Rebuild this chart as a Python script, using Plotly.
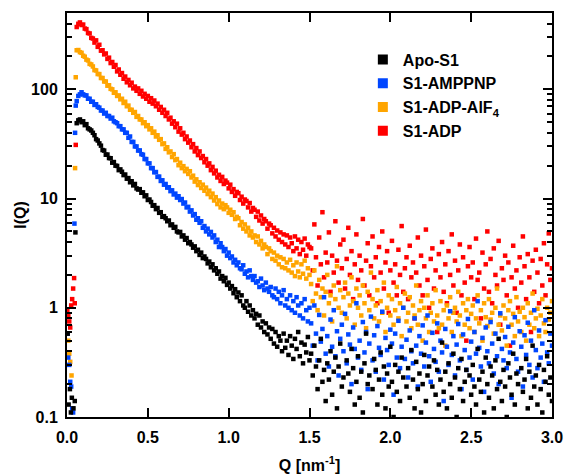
import plotly.graph_objects as go

# ---------------- data ----------------
q_dense = [0.06, 0.07, 0.08, 0.09, 0.10, 0.11, 0.12, 0.13, 0.14, 0.15,
           0.16, 0.17, 0.18, 0.19, 0.20, 0.21, 0.22, 0.23, 0.24, 0.25,
           0.26, 0.27, 0.28, 0.29, 0.30, 0.31, 0.32, 0.33, 0.34, 0.35,
           0.36, 0.37, 0.38, 0.39, 0.40, 0.41, 0.42, 0.43, 0.44, 0.45,
           0.46, 0.47, 0.48, 0.49, 0.50, 0.51, 0.52, 0.53, 0.54, 0.55,
           0.56, 0.57, 0.58, 0.59, 0.60, 0.61, 0.62, 0.63, 0.64, 0.65,
           0.66, 0.67, 0.68, 0.69, 0.70, 0.71, 0.72, 0.73, 0.74, 0.75,
           0.76, 0.77, 0.78, 0.79, 0.80, 0.81, 0.82, 0.83, 0.84, 0.85,
           0.86, 0.87, 0.88, 0.89, 0.90, 0.91, 0.92, 0.93, 0.94, 0.95,
           0.96, 0.97, 0.98, 0.99, 1.00, 1.01, 1.02, 1.03, 1.04, 1.05,
           1.06, 1.07, 1.08, 1.09, 1.10, 1.11, 1.12, 1.13, 1.14, 1.15,
           1.16, 1.17, 1.18, 1.19, 1.20, 1.21, 1.22, 1.23, 1.24, 1.25,
           1.26, 1.27, 1.28, 1.29, 1.30, 1.31, 1.32, 1.33, 1.34, 1.35,
           1.36, 1.37, 1.38, 1.39, 1.40, 1.41, 1.42, 1.43, 1.44, 1.45,
           1.46, 1.47, 1.48, 1.49, 1.50]
q_tail = [1.51, 1.52, 1.53, 1.54, 1.55, 1.56, 1.57, 1.58, 1.59, 1.60,
          1.61, 1.62, 1.63, 1.64, 1.65, 1.66, 1.67, 1.68, 1.69, 1.70,
          1.71, 1.72, 1.73, 1.74, 1.75, 1.76, 1.77, 1.78, 1.79, 1.80,
          1.81, 1.82, 1.83, 1.84, 1.85, 1.86, 1.87, 1.88, 1.89, 1.90,
          1.91, 1.92, 1.93, 1.94, 1.95, 1.96, 1.97, 1.98, 1.99, 2.00,
          2.01, 2.02, 2.03, 2.04, 2.05, 2.06, 2.07, 2.08, 2.09, 2.10,
          2.11, 2.12, 2.13, 2.14, 2.15, 2.16, 2.17, 2.18, 2.19, 2.20,
          2.21, 2.22, 2.23, 2.24, 2.25, 2.26, 2.27, 2.28, 2.29, 2.30,
          2.31, 2.32, 2.33, 2.34, 2.35, 2.36, 2.37, 2.38, 2.39, 2.40,
          2.41, 2.42, 2.43, 2.44, 2.45, 2.46, 2.47, 2.48, 2.49, 2.50,
          2.51, 2.52, 2.53, 2.54, 2.55, 2.56, 2.57, 2.58, 2.59, 2.60,
          2.61, 2.62, 2.63, 2.64, 2.65, 2.66, 2.67, 2.68, 2.69, 2.70,
          2.71, 2.72, 2.73, 2.74, 2.75, 2.76, 2.77, 2.78, 2.79, 2.80,
          2.81, 2.82, 2.83, 2.84, 2.85, 2.86, 2.87, 2.88, 2.89, 2.90,
          2.91, 2.92, 2.93, 2.94, 2.95, 2.96, 2.97, 2.98, 2.99, 3.00]

# Apo-S1 (black)
apo_bs_q = [0.004, 0.010, 0.018, 0.024, 0.030, 0.040, 0.048, 0.052]
apo_bs_i = [0.58, 0.13, 0.18, 0.11, 0.15, 0.12, 0.14, 4.9]
apo_dense = [49, 52, 53, 50, 51, 47, 48, 44, 43, 42,
             40, 38, 35, 34, 32, 30.5, 27.8, 27.5, 25.2, 25.3,
             23.5, 23.4, 21.3, 21.6, 20.0, 19.9, 18.2, 18.5, 17.6, 16.4,
             16.6, 15.2, 15.4, 14.1, 14.4, 13.2, 13.6, 12.4, 12.1, 12.2,
             11.3, 11.4, 10.5, 10.7, 9.7, 9.8, 9.3, 8.6, 8.7, 8.0,
             8.2, 7.4, 7.5, 6.8, 6.9, 6.6, 6.2, 6.3, 5.7, 5.8,
             5.4, 5.5, 5.0, 4.9, 4.95, 4.5, 4.6, 4.2, 4.35, 3.9,
             4.0, 3.8, 3.55, 3.65, 3.3, 3.4, 3.05, 3.2, 2.85, 2.95,
             2.8, 2.55, 2.65, 2.35, 2.5, 2.2, 2.3, 2.05, 2.15, 1.85,
             1.95, 1.75, 1.88, 1.62, 1.7, 1.5, 1.58, 1.36, 1.48, 1.25,
             1.38, 1.15, 1.3, 1.05, 1.0, 1.15, 0.92, 1.05, 0.85, 0.95,
             0.8, 0.88, 0.7, 0.85, 0.66, 0.75, 0.6, 0.72, 0.57, 0.66,
             0.52, 0.64, 0.47, 0.6, 0.44, 0.55, 0.5, 0.4, 0.58, 0.43,
             0.5, 0.37, 0.55, 0.45, 0.34, 0.52, 0.42, 0.6, 0.36, 0.48,
             0.31, 0.46, 0.39, 0.54, 0.33]
apo_tail = [0.38, 0.24, 0.45, 0.29, 0.18, 0.33, 0.52, 0.21, 0.27, 0.14,
            0.31, 0.22, 0.40, 0.16, 0.26, 0.35, 0.12, 0.29, 0.47, 0.19,
            0.23, 0.09, 0.33, 0.25, 0.17, 0.42, 0.28, 0.13, 0.21, 0.36,
            0.15, 0.26, 0.11, 0.31, 0.58, 0.20, 0.24, 0.08, 0.18, 0.34,
            0.27, 0.13, 0.22, 0.39, 0.16, 0.29, 0.12, 0.25, 0.19, 0.44,
            0.21, 0.10, 0.30, 0.17, 0.26, 0.14, 0.35, 0.23, 0.07, 0.19,
            0.28, 0.15, 0.41, 0.22, 0.12, 0.32, 0.18, 0.25, 0.11, 0.20,
            0.37, 0.14, 0.24, 0.29, 0.09, 0.19, 0.33, 0.16, 0.27, 0.13,
            0.22, 0.48, 0.17, 0.26, 0.12, 0.31, 0.20, 0.15, 0.38, 0.23,
            0.10, 0.28, 0.18, 0.34, 0.14, 0.21, 0.27, 0.08, 0.24, 0.16,
            0.30, 0.19, 0.13, 0.42, 0.22, 0.17, 0.26, 0.11, 0.35, 0.20,
            0.15, 0.29, 0.24, 0.12, 0.33, 0.18, 0.52, 0.21, 0.14, 0.27,
            0.19, 0.10, 0.31, 0.23, 0.16, 0.38, 0.13, 0.25, 0.20, 0.09,
            0.28, 0.17, 0.22, 0.34, 0.12, 0.26, 0.15, 0.45, 0.19, 0.24,
            0.13, 0.30, 0.18, 0.11, 0.27, 0.21, 0.36, 0.16, 0.23, 0.14]

# S1-AMPPNP (blue)
amp_bs_q = [0.004, 0.008, 0.014, 0.020, 0.026, 0.032, 0.038, 0.046, 0.050, 0.054]
amp_bs_i = [0.58, 0.35, 0.30, 0.21, 0.19, 0.12, 0.11, 5.9, 40, 71]
amp_dense = [78, 87, 90, 94, 90, 88, 88, 82, 82, 77,
             77, 72, 73, 69, 68, 64, 64, 60, 61, 57,
             57, 54, 55, 51, 50, 49, 46, 46, 43, 43,
             40, 40, 36, 37, 33, 33, 30, 30, 27.5, 27.6,
             25.5, 25.2, 23, 23, 21, 21, 19, 19, 17.4, 17.5,
             15.8, 15.9, 14.5, 14.7, 13.4, 13.6, 12.6, 12.7, 11.7, 11.9,
             10.9, 11.1, 10.2, 10.5, 9.7, 9.9, 9.0, 9.2, 8.3, 8.4,
             7.6, 7.8, 7.0, 7.2, 6.4, 6.6, 6.0, 6.2, 5.4, 5.6,
             5.0, 5.3, 4.7, 4.95, 4.4, 4.6, 4.0, 4.2, 3.6, 3.9,
             3.6, 3.3, 3.45, 3.0, 3.2, 2.85, 2.95, 2.6, 2.75, 2.45,
             2.6, 2.3, 2.25, 2.45, 2.05, 2.15, 1.9, 2.2, 1.95, 1.8,
             1.95, 1.7, 1.75, 1.55, 1.85, 1.6, 1.45, 1.7, 1.5, 1.4,
             1.55, 1.3, 1.25, 1.5, 1.2, 1.4, 1.1, 1.3, 1.45, 1.05,
             1.2, 1.0, 1.3, 0.95, 1.15, 0.9, 1.25, 1.05, 0.85, 1.1,
             0.8, 1.2, 0.95, 0.75, 1.0]
amp_tail = [0.72, 0.45, 1.05, 0.58, 0.33, 0.86, 0.49, 0.64, 1.25, 0.38,
            0.55, 0.29, 0.78, 0.44, 0.95, 0.36, 0.61, 0.24, 0.52, 0.70,
            0.40, 0.88, 0.31, 0.57, 0.46, 0.20, 0.66, 0.42, 1.10, 0.35,
            0.50, 0.27, 0.74, 0.39, 0.60, 0.18, 0.47, 0.83, 0.33, 0.56,
            0.26, 0.68, 0.43, 0.37, 0.92, 0.22, 0.53, 0.41, 0.30, 0.63,
            0.47, 0.16, 0.58, 0.35, 0.76, 0.28, 0.44, 1.00, 0.34, 0.51,
            0.23, 0.62, 0.40, 0.31, 0.80, 0.45, 0.19, 0.55, 0.38, 0.69,
            0.29, 0.48, 0.85, 0.36, 0.21, 0.59, 0.42, 0.32, 0.72, 0.26,
            0.50, 0.39, 0.14, 0.64, 0.44, 0.30, 0.93, 0.37, 0.55, 0.24,
            0.46, 0.71, 0.33, 0.18, 0.57, 0.41, 0.27, 0.79, 0.35, 0.49,
            0.22, 0.60, 0.38, 1.15, 0.43, 0.29, 0.53, 0.17, 0.66, 0.40,
            0.31, 0.74, 0.47, 0.25, 0.58, 0.36, 0.20, 0.89, 0.42, 0.33,
            0.54, 0.28, 0.67, 0.39, 0.15, 0.48, 0.82, 0.34, 0.26, 0.61,
            0.44, 0.19, 0.56, 0.37, 0.73, 0.30, 0.50, 0.23, 0.95, 0.41,
            0.28, 0.62, 0.35, 0.47, 0.21, 0.77, 0.39, 0.31, 0.58, 0.45]

# S1-ADP-AlF4 (orange)
alf_bs_q = [0.002, 0.008, 0.014, 0.020, 0.028, 0.036, 0.050, 0.054]
alf_bs_i = [0.58, 0.50, 0.38, 0.32, 0.24, 0.12, 19, 129]
alf_dense = [228, 229, 219, 216, 203, 199, 187, 184, 171, 169,
             162, 150, 149, 138, 138, 127, 127, 118, 118, 108,
             109, 101, 100, 93, 94, 87, 88, 81, 82, 75,
             77, 70, 71, 65, 65, 61, 62, 56, 57, 53,
             53, 49, 50, 46, 47, 43, 44, 40, 41, 37,
             38, 34.5, 35, 31.5, 32, 28.5, 29.5, 26.5, 27, 24,
             25.5, 22.5, 23, 20.2, 21.3, 19, 19.8, 17.8, 18.7, 16.8,
             17.8, 15.6, 16.2, 14.3, 15.0, 13.3, 14.1, 12.5, 13.4, 11.8,
             12.6, 11.0, 11.8, 10.3, 11.1, 9.6, 10.3, 8.9, 9.6, 8.3,
             9.0, 8.0, 8.7, 8.3, 7.4, 7.9, 7.1, 7.5, 6.5, 6.8,
             6.6, 5.7, 6.1, 5.3, 5.8, 5.0, 5.4, 4.6, 5.0, 4.4,
             4.6, 4.0, 4.5, 3.8, 4.1, 3.5, 3.8, 3.6, 3.1, 3.5,
             3.3, 2.8, 3.2, 2.7, 3.0, 2.5, 2.9, 2.35, 2.8, 2.3,
             2.6, 2.2, 2.75, 2.1, 2.45, 1.95, 2.6, 2.15, 1.9, 2.5,
             2.05, 2.7, 1.85, 2.3, 2.0]
alf_tail = [1.65, 1.15, 2.2, 1.35, 0.95, 1.8, 1.25, 1.5, 0.85, 1.4,
            2.0, 1.1, 1.3, 0.75, 1.6, 1.2, 2.4, 1.0, 1.45, 0.9,
            1.25, 1.7, 0.8, 1.35, 1.05, 1.9, 1.15, 0.7, 1.5, 1.0,
            1.3, 0.85, 1.6, 1.1, 0.65, 1.4, 0.95, 2.1, 1.2, 0.8,
            1.05, 1.45, 0.75, 1.15, 0.9, 1.7, 0.6, 1.0, 1.3, 0.85,
            1.2, 0.7, 0.95, 1.55, 0.8, 1.1, 0.55, 1.0, 1.35, 0.75,
            0.9, 1.25, 0.65, 1.05, 0.85, 1.6, 0.7, 0.95, 1.15, 0.5,
            1.0, 0.8, 1.3, 0.6, 0.9, 1.1, 0.75, 1.45, 0.85, 0.65,
            1.15, 0.7, 0.95, 0.45, 1.05, 0.8, 1.25, 0.6, 0.9, 1.0,
            0.75, 1.4, 0.85, 0.55, 1.1, 0.7, 0.95, 1.2, 0.65, 0.88,
            1.05, 0.6, 0.8, 1.3, 0.72, 0.95, 0.5, 1.1, 0.82, 0.68,
            1.2, 0.78, 0.9, 0.58, 1.0, 1.5, 0.7, 0.85, 0.62, 1.05,
            0.8, 0.45, 0.95, 1.15, 0.7, 0.88, 0.55, 1.25, 0.75, 0.92,
            0.6, 1.0, 0.82, 0.5, 1.1, 0.7, 0.9, 1.35, 0.65, 0.8,
            0.98, 0.55, 0.85, 1.2, 0.72, 0.6, 1.0, 0.78, 0.9, 1.15]

# S1-ADP (red)
adp_bs_q = [0.002, 0.008, 0.014, 0.020, 0.026, 0.032, 0.038, 0.044, 0.048, 0.054]
adp_bs_i = [0.95, 0.85, 0.75, 0.66, 1.05, 1.2, 1.5, 1.87, 1.1, 31]
adp_dense = [372, 398, 410, 388, 392, 360, 356, 328, 325, 296,
             292, 268, 281, 245, 256, 226, 228, 209, 213, 190,
             195, 174, 178, 161, 167, 146, 152, 136, 141, 125,
             131, 116, 122, 109, 115, 102, 106, 97, 102, 91,
             97, 86, 91, 82, 87, 77, 83, 74, 79, 70,
             74, 65, 69, 61, 65, 57, 61, 53, 55, 48.5,
             51, 45, 48.5, 41, 44, 38.5, 40, 35, 37, 32.5,
             34, 29.5, 31.5, 27, 29, 25, 27, 23.5, 24.5, 21.5,
             23, 20, 21, 18.2, 19.5, 17, 18, 15.6, 16.5, 14.5,
             15.8, 13.6, 14.6, 14.0, 12.4, 13.4, 11.5, 12.2, 10.6, 11.5,
             11.2, 9.7, 10.4, 9.0, 9.8, 9.5, 8.3, 9.1, 7.6, 8.2,
             7.9, 6.8, 7.6, 6.3, 7.0, 5.9, 6.5, 6.2, 5.3, 5.9,
             5.7, 4.8, 5.4, 4.5, 5.1, 4.2, 4.9, 4.0, 4.7, 3.8,
             4.6, 3.6, 4.4, 3.9, 3.3, 4.5, 3.5, 4.2, 3.1, 4.0,
             3.4, 4.3, 3.0, 3.8, 3.6]
adp_tail = [3.5, 2.2, 5.8, 2.9, 1.6, 4.4, 2.5, 7.5, 1.9, 3.2,
            2.6, 4.9, 1.4, 3.0, 2.1, 6.2, 2.7, 1.7, 3.8, 2.3,
            4.2, 1.5, 2.8, 5.4, 2.0, 3.3, 1.2, 2.5, 4.7, 1.8,
            3.0, 2.2, 6.5, 1.6, 2.7, 3.9, 1.3, 2.4, 4.5, 1.9,
            2.9, 1.1, 3.6, 2.1, 5.0, 1.5, 2.6, 3.3, 0.9, 2.2,
            4.1, 1.7, 2.5, 1.3, 3.4, 2.0, 5.6, 1.4, 2.3, 2.9,
            1.2, 3.7, 1.9, 2.6, 0.8, 2.1, 4.4, 1.6, 3.0, 1.3,
            2.4, 5.2, 1.8, 1.0, 2.8, 3.5, 1.5, 2.2, 0.6, 3.1,
            1.9, 4.0, 1.4, 2.5, 1.1, 3.3, 2.0, 4.7, 1.6, 2.7,
            0.9, 2.2, 3.8, 1.3, 2.9, 1.7, 0.5, 2.4, 3.6, 1.9,
            2.6, 1.2, 4.3, 1.8, 2.1, 0.8, 3.2, 1.5, 2.5, 5.0,
            1.4, 2.8, 1.1, 3.5, 2.0, 1.6, 4.1, 0.7, 2.3, 1.8,
            3.0, 1.3, 2.6, 0.45, 1.9, 3.7, 1.5, 2.2, 1.0, 2.9,
            1.7, 4.5, 2.4, 1.2, 3.1, 1.9, 0.6, 2.7, 1.4, 3.4,
            2.1, 1.1, 2.8, 1.6, 3.9, 1.3, 2.5, 4.8, 1.8, 2.3]

series_names = ["Apo-S1", "S1-AMPPNP", "S1-ADP-AlF<sub>4</sub>", "S1-ADP"]
series_colors = ["#000000", "#0046ff", "#ffa500", "#ff0000"]
series_data = [
    (apo_bs_q, apo_bs_i, apo_dense, apo_tail),
    (amp_bs_q, amp_bs_i, amp_dense, amp_tail),
    (alf_bs_q, alf_bs_i, alf_dense, alf_tail),
    (adp_bs_q, adp_bs_i, adp_dense, adp_tail),
]
for bq, bi, dense, tail in series_data:
    assert len(bq) == len(bi)
    assert len(dense) == len(q_dense), len(dense)
    assert len(tail) == len(q_tail), len(tail)

FONT = "Liberation Sans, Arial, sans-serif"

fig = go.Figure()

# data traces (red drawn first so black ends on top)
for idx in [3, 2, 1, 0]:
    bq, bi, dense, tail = series_data[idx]
    fig.add_trace(go.Scatter(
        x=bq + q_dense + q_tail,
        y=bi + dense + tail,
        mode="markers",
        marker=dict(symbol="square", size=4.5, color=series_colors[idx], line=dict(width=0)),
        showlegend=False,
        hoverinfo="skip",
    ))

# legend entries
for name, color in zip(series_names, series_colors):
    fig.add_trace(go.Scatter(
        x=[None], y=[None], mode="markers", name=name,
        marker=dict(symbol="square", size=10, color=color, line=dict(width=0)),
    ))

axis_common = dict(
    showline=True, linewidth=2, linecolor="black", mirror="ticks",
    ticks="inside", tickwidth=2, tickcolor="black",
    showgrid=False, zeroline=False, automargin=False,
    tickfont=dict(family=FONT, size=16, color="black", weight="bold"),
)

fig.update_xaxes(
    range=[0, 3.0], dtick=0.5, tick0=0, tickformat=".1f", ticklen=9,
    ticklabelstandoff=5,
    title=dict(text="Q [nm<sup>-1</sup>]", standoff=20,
               font=dict(family=FONT, size=16, color="black", weight="bold")),
    **axis_common,
)
fig.update_yaxes(
    type="log", range=[-1, 2.699], dtick=1, ticklen=9,
    ticklabelstandoff=4,
    minor=dict(dtick="D1", ticks="inside", ticklen=5, tickwidth=1.5, tickcolor="black", showgrid=False),
    title=dict(text="I(Q)", standoff=0,
               font=dict(family=FONT, size=16, color="black", weight="bold")),
    **axis_common,
)

fig.update_layout(
    width=564, height=474,
    margin=dict(l=67, r=12, t=13, b=57),
    plot_bgcolor="white", paper_bgcolor="white",
    font=dict(family=FONT, size=16, color="black", weight="bold"),
    legend=dict(x=0.61, y=0.927, xanchor="left", yanchor="top",
                bgcolor="rgba(0,0,0,0)", borderwidth=0,
                font=dict(family=FONT, size=16, color="black", weight="bold")),
)

fig.write_html(
    "out.html",
    config={"displayModeBar": False},
    post_script="document.body.style.margin='0px';document.body.style.padding='0px';",
)
